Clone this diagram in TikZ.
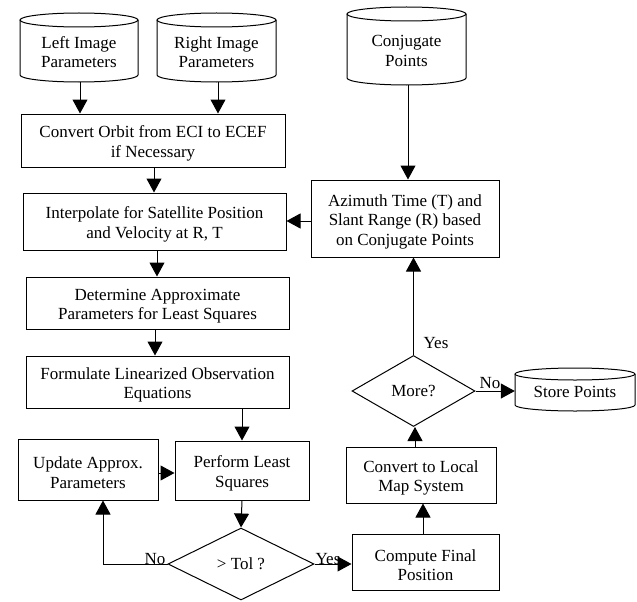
\documentclass[tikz,border=0pt]{standalone}
\usepackage{fontspec}
\setmainfont{Liberation Serif}
\usetikzlibrary{shapes.geometric,arrows.meta,calc}
\newcommand{\mycyl}[5]{% left x, right x, top y, bottom y, ry
  \draw[line] ({(#1+#2)/2},{#3+#5}) ellipse [x radius={(#2-#1)/2*1pt}, y radius=#5pt];
  \draw[line] ({#1},{#3+#5}) -- ({#1},{#4-#5})
    arc [start angle=180, end angle=360, x radius={(#2-#1)/2*1pt}, y radius=#5pt]
    -- ({#2},{#3+#5});
}
\newcommand{\bs}{\rule{0pt}{18pt}}
\newcommand{\cs}{\rule{0pt}{21pt}}
\begin{document}
\begin{tikzpicture}[x=1pt,y=-1pt,
  line/.style={line width=1pt},
  box/.style={draw, line width=1pt, rectangle, inner sep=0pt, align=center,
    font=\fontsize{17}{19.5}\selectfont},
  cyltext/.style={inner sep=0pt, align=center, font=\fontsize{17}{19.5}\selectfont},
  dia/.style={draw, line width=1pt, diamond, aspect=2, inner sep=0pt,
    font=\fontsize{17}{19.5}\selectfont},
  arr/.style={line width=1pt, -{Triangle[length=14pt,width=15pt]}},
  lbl/.style={font=\fontsize{17}{19.5}\selectfont, inner sep=1pt}]
\useasboundingbox (0,0) rectangle (637,602);

% cylinders
\mycyl{20}{138}{13}{82}{7}
\mycyl{157}{276}{13}{82}{7}
\mycyl{347}{466}{7}{85}{7}
\mycyl{515}{635}{368}{411}{6}
\node[cyltext, minimum width=118pt, minimum height=69pt] (L) at (79,47.5) {\cs Left Image\\Parameters};
\node[cyltext, minimum width=119pt, minimum height=69pt] (R) at (216.5,47.5) {\cs Right Image\\Parameters};
\node[cyltext, minimum width=119pt, minimum height=78pt] (C) at (406.5,46) {\cs Conjugate\\Points};
\node[cyltext, minimum width=120pt, minimum height=43pt] (S) at (575,392) {Store Points};

% boxes
\node[box, minimum width=264pt, minimum height=53pt] (B1) at (153,140.5) {\bs Convert Orbit from ECI to ECEF\\if Necessary};
\node[box, minimum width=263pt, minimum height=57pt] (B2) at (154.5,221.5) {\bs Interpolate for Satellite Position\\and Velocity at R, T};
\node[box, minimum width=263pt, minimum height=52pt] (B3) at (157.5,303) {\bs Determine Approximate\\Parameters for Least Squares};
\node[box, minimum width=263pt, minimum height=52pt] (B4) at (157.5,382) {\bs Formulate Linearized Observation\\Equations};
\node[box, minimum width=134pt, minimum height=59pt] (B5) at (242,470.5) {\bs Perform Least\\Squares};
\node[box, minimum width=140pt, minimum height=61pt] (B6) at (88,469.5) {\bs Update Approx.\\Parameters};
\node[dia, minimum width=146pt, minimum height=72pt] (D1) at (241,564) {> Tol ?};
\node[box, minimum width=147pt, minimum height=56pt] (F) at (425.5,562) {\bs Compute Final\\Position};
\node[box, minimum width=150pt, minimum height=56pt] (M) at (421,475) {\bs Convert to Local\\Map System};
\node[dia, minimum width=123pt, minimum height=71pt] (D2) at (413.5,391) {More?};
\node[box, minimum width=188pt, minimum height=77pt] (A) at (405,218.5) {\bs Azimuth Time (T) and\\Slant Range (R) based\\on Conjugate Points};

% connectors
\draw[arr] ([xshift=1pt]L.south) -- ([xshift=1pt]L.south |- B1.north);
\draw[arr] ([xshift=1.5pt]R.south) -- ([xshift=1.5pt]R.south |- B1.north);
\draw[arr] ([xshift=1pt]B1.south) -- ([xshift=1pt]B1.south |- B2.north);
\draw[arr] ([xshift=2.5pt]B2.south) -- ([xshift=2.5pt]B2.south |- B3.north);
\draw[arr] ([xshift=-2.5pt]B3.south) -- ([xshift=-2.5pt]B3.south |- B4.north);
\draw[arr] (B4.south -| B5.north) -- (B5.north);
\draw[arr] ([yshift=-3.5pt]B6.east) -- ([yshift=-3.5pt]B6.east -| B5.west);
\draw[arr] (B5.south) -- (D1.north);
\draw[arr] (D1.west) -| ([xshift=15pt]B6.south);
\node[lbl, anchor=south] at (155,566) {No};
\draw[arr] (D1.east) -- (D1.east -| F.west);
\node[lbl, anchor=south] at (328,566) {Yes};
\draw[arr] ([xshift=-2.5pt]F.north) -- ([xshift=-2.5pt]F.north |- M.south);
\draw[arr] ([xshift=-6pt]M.north) -- ([xshift=-6pt]M.north |- D2.south);
\draw[arr] (D2.north) -- (D2.north |- A.south);
\node[lbl] at (436,343) {Yes};
\draw[arr] (D2.east) -- (D2.east -| S.west);
\node[lbl, anchor=south] at (490,390) {No};
\draw[arr] ([yshift=-2.5pt]A.west) -- ([yshift=-2.5pt]A.west -| B2.east);
\draw[arr] ([xshift=1.5pt]C.south) -- ([xshift=1.5pt]C.south |- A.north);
\end{tikzpicture}
\end{document}
